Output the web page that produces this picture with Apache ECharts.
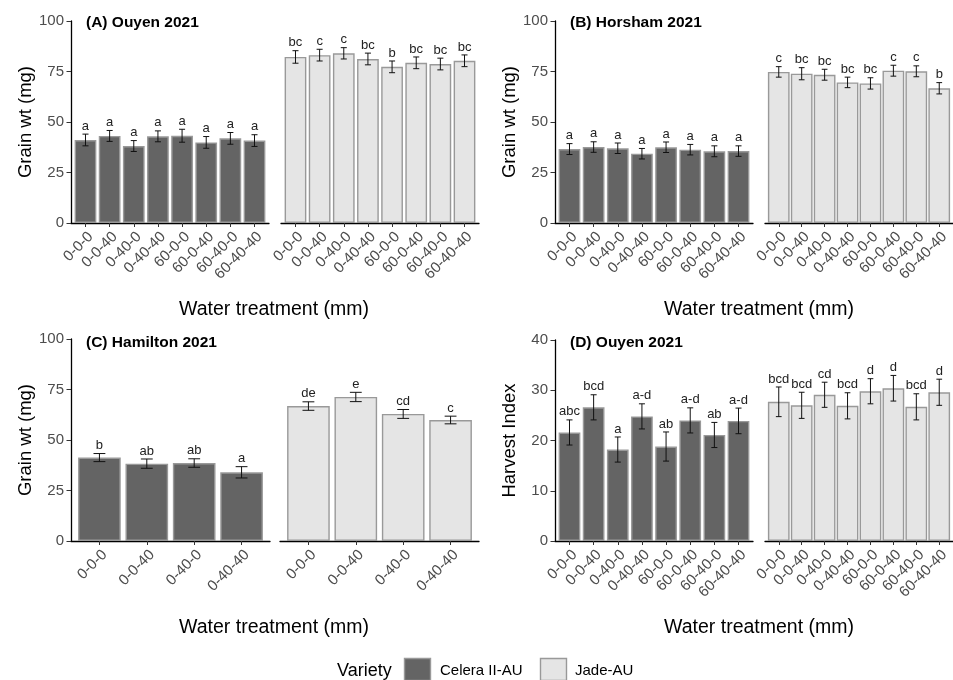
<!DOCTYPE html>
<html>
<head>
<meta charset="utf-8">
<script src="https://cdn.jsdelivr.net/npm/echarts@6/dist/echarts.min.js"></script>
<style>html,body{margin:0;padding:0;background:#fff;}#c{width:953px;height:680px;}</style>
</head>
<body>
<div id="c"></div>
<script>
// ---------- data ----------
const trt8 = ['0-0-0','0-0-40','0-40-0','0-40-40','60-0-0','60-0-40','60-40-0','60-40-40'];
const trt4 = ['0-0-0','0-0-40','0-40-0','0-40-40'];
const varieties = ['Celera II-AU','Jade-AU'];

// (A) Ouyen 2021 grain weight
const A_cel = [41.1, 43.1, 38.1, 42.9, 43.2, 39.9, 41.9, 40.8];
const A_cel_se = [2.9, 2.7, 2.7, 2.7, 3.2, 2.9, 2.9, 2.9];
const A_cel_lt = ['a','a','a','a','a','a','a','a'];
const A_jad = [82.2, 83.1, 84.0, 81.2, 77.3, 79.3, 78.7, 80.3];
const A_jad_se = [3.1, 2.9, 2.8, 2.9, 2.9, 2.9, 2.9, 2.9];
const A_jad_lt = ['bc','c','c','bc','b','bc','bc','bc'];

// (B) Horsham 2021 grain weight
const B_cel = [36.6, 37.6, 37.0, 34.3, 37.5, 36.3, 35.5, 35.6];
const B_cel_se = [2.7, 2.6, 2.6, 2.6, 2.6, 2.6, 2.7, 2.6];
const B_cel_lt = ['a','a','a','a','a','a','a','a'];
const B_jad = [74.8, 73.9, 73.4, 69.6, 69.1, 75.4, 75.1, 66.7];
const B_jad_se = [2.6, 3.0, 2.7, 2.6, 2.8, 2.7, 2.7, 2.8];
const B_jad_lt = ['c','bc','bc','bc','bc','c','c','b'];

// (C) Hamilton 2021 grain weight
const C_cel = [41.3, 38.3, 38.6, 34.0];
const C_cel_se = [2.0, 2.3, 2.1, 2.8];
const C_cel_lt = ['b','ab','ab','a'];
const C_jad = [66.8, 71.3, 62.9, 59.9];
const C_jad_se = [2.1, 2.3, 2.2, 1.9];
const C_jad_lt = ['de','e','cd','c'];

// (D) Ouyen 2021 harvest index
const D_cel = [21.6, 26.6, 18.2, 24.8, 18.8, 24.0, 21.1, 23.9];
const D_cel_se = [2.5, 2.5, 2.5, 2.5, 2.9, 2.5, 2.5, 2.55];
const D_cel_lt = ['abc','bcd','a','a-d','ab','a-d','ab','a-d'];
const D_jad = [27.7, 27.0, 29.1, 26.9, 29.8, 30.4, 26.7, 29.6];
const D_jad_se = [2.95, 2.6, 2.5, 2.6, 2.5, 2.55, 2.6, 2.6];
const D_jad_lt = ['bcd','bcd','cd','bcd','d','d','bcd','d'];

const gwTicks = [0, 100, 25];   // min, max, interval
const hiTicks = [0, 40, 10];

// ---------- layout / style ----------
const FONT = "'Liberation Sans', Arial, Helvetica, sans-serif";
const FILL = ['#646464', '#e5e5e5'];
const BORDER = '#999999';

const facets = [
  {g:{left:71, top:21, width:198, height:202}, cats:trt8, v:A_cel, se:A_cel_se, lt:A_cel_lt, vi:0, t:gwTicks, yname:'Grain wt (mg)'},
  {g:{left:281, top:21, width:198, height:202}, cats:trt8, v:A_jad, se:A_jad_se, lt:A_jad_lt, vi:1, t:gwTicks},
  {g:{left:555, top:21, width:198, height:202}, cats:trt8, v:B_cel, se:B_cel_se, lt:B_cel_lt, vi:0, t:gwTicks, yname:'Grain wt (mg)'},
  {g:{left:765, top:21, width:198, height:202}, cats:trt8, v:B_jad, se:B_jad_se, lt:B_jad_lt, vi:1, t:gwTicks},
  {g:{left:71, top:339, width:199, height:202}, cats:trt4, v:C_cel, se:C_cel_se, lt:C_cel_lt, vi:0, t:gwTicks, yname:'Grain wt (mg)'},
  {g:{left:280, top:339, width:199, height:202}, cats:trt4, v:C_jad, se:C_jad_se, lt:C_jad_lt, vi:1, t:gwTicks},
  {g:{left:555, top:340, width:198, height:201}, cats:trt8, v:D_cel, se:D_cel_se, lt:D_cel_lt, vi:0, t:hiTicks, yname:'Harvest Index'},
  {g:{left:765, top:340, width:198, height:201}, cats:trt8, v:D_jad, se:D_jad_se, lt:D_jad_lt, vi:1, t:hiTicks}
];

const grid = [], xAxis = [], yAxis = [], series = [];
facets.forEach((f, k) => {
  const n = f.cats.length;
  const idx = f.cats.map((c, i) => i);
  grid.push(Object.assign({containLabel:false}, f.g));
  xAxis.push({
    type:'value', gridIndex:k, min:-0.6, max:n - 0.4,
    splitLine:{show:false},
    axisLine:{show:true, onZero:false, lineStyle:{color:'#000', width:1.3}},
    axisTick:{show:true, length:4, customValues:idx, lineStyle:{color:'#333', width:1}},
    axisLabel:{show:true, customValues:idx, rotate:45, align:'right', verticalAlign:'top',
      margin:6, fontSize:15, color:'#4d4d4d', fontFamily:FONT,
      formatter:(val) => f.cats[Math.round(val)]}
  });
  const left = !!f.yname;
  yAxis.push({
    type:'value', gridIndex:k, min:f.t[0], max:f.t[1], interval:f.t[2],
    splitLine:{show:false},
    axisLine:{show:left, onZero:false, lineStyle:{color:'#000', width:1.3}},
    axisTick:{show:left, length:4.5, lineStyle:{color:'#333', width:1}},
    axisLabel:{show:left, fontSize:15, color:'#4d4d4d', margin:7, fontFamily:FONT},
    name:left ? f.yname : '', nameLocation:'middle', nameGap:36,
    nameTextStyle:{fontSize:18.5, color:'#000', fontFamily:FONT}
  });
  const bw = 0.9 * f.g.width / (n + 0.2);
  series.push({
    type:'bar', name:varieties[f.vi], xAxisIndex:k, yAxisIndex:k,
    barWidth:bw, silent:true,
    itemStyle:{color:FILL[f.vi], borderColor:BORDER, borderWidth:1.4},
    data:f.v.map((v, i) => [i, v])
  });
  series.push({
    type:'custom', xAxisIndex:k, yAxisIndex:k, silent:true, clip:false, z:5,
    data:f.v.map((v, i) => [i, v, f.se[i]]),
    renderItem:(params, api) => {
      const x = api.value(0), v = api.value(1), s = api.value(2);
      const hi = api.coord([x, v + s]);
      const lo = api.coord([x, v - s]);
      const hw = api.size([0.125, 0])[0];
      const st = {stroke:'#111', lineWidth:1};
      return {type:'group', children:[
        {type:'line', shape:{x1:hi[0], y1:hi[1], x2:lo[0], y2:lo[1]}, style:st},
        {type:'line', shape:{x1:hi[0]-hw, y1:hi[1], x2:hi[0]+hw, y2:hi[1]}, style:st},
        {type:'line', shape:{x1:lo[0]-hw, y1:lo[1], x2:lo[0]+hw, y2:lo[1]}, style:st},
        {type:'text', x:hi[0], y:hi[1] - 1.5,
          style:{text:f.lt[params.dataIndex], align:'center', verticalAlign:'bottom',
            fontSize:13, fill:'#222', fontFamily:FONT}}
      ]};
    }
  });
});

const titles = [
  {text:'(A) Ouyen 2021', x:86, y:23},
  {text:'(B) Horsham 2021', x:570, y:23},
  {text:'(C) Hamilton 2021', x:86, y:343},
  {text:'(D) Ouyen 2021', x:570, y:343}
];
const xTitles = [[274, 310], [759, 310], [274, 628], [759, 628]];

const graphic = [];
titles.forEach(t => graphic.push({type:'text', x:t.x, y:t.y,
  style:{text:t.text, fontSize:15.5, fontWeight:'bold', fill:'#000', fontFamily:FONT, align:'left', verticalAlign:'middle'}}));
xTitles.forEach(p => graphic.push({type:'text', x:p[0], y:p[1],
  style:{text:'Water treatment (mm)', fontSize:19.5, fill:'#000', fontFamily:FONT, align:'center', verticalAlign:'middle'}}));
// legend
graphic.push({type:'text', x:337, y:671, style:{text:'Variety', fontSize:18, fill:'#000', fontFamily:FONT, align:'left', verticalAlign:'middle'}});
graphic.push({type:'rect', shape:{x:404.5, y:658.5, width:26, height:22}, style:{fill:FILL[0], stroke:BORDER, lineWidth:1.4}});
graphic.push({type:'text', x:440, y:671, style:{text:varieties[0], fontSize:15, fill:'#000', fontFamily:FONT, align:'left', verticalAlign:'middle'}});
graphic.push({type:'rect', shape:{x:540.5, y:658.5, width:26, height:22}, style:{fill:FILL[1], stroke:BORDER, lineWidth:1.4}});
graphic.push({type:'text', x:575, y:671, style:{text:varieties[1], fontSize:15, fill:'#000', fontFamily:FONT, align:'left', verticalAlign:'middle'}});

const chart = echarts.init(document.getElementById('c'), null, {renderer:'canvas'});
chart.setOption({
  animation:false,
  backgroundColor:'#fff',
  textStyle:{fontFamily:FONT},
  grid, xAxis, yAxis, series, graphic
});
</script>
</body>
</html>
